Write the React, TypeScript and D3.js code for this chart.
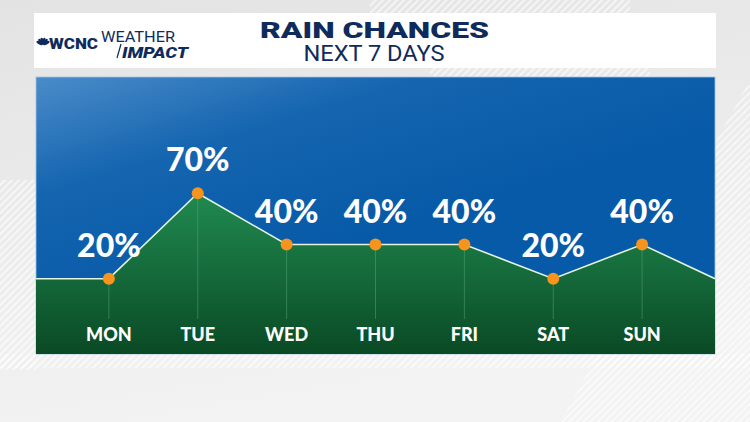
import { useEffect, useRef } from 'react'
import * as d3 from 'd3'

// rain chances
const days = ['MON', 'TUE', 'WED', 'THU', 'FRI', 'SAT', 'SUN']
const chances = [20, 70, 40, 40, 40, 20, 40]
// the line runs on past the first and last day to the panel edges
const leadChance = 20
const trailChance = 20

const W = 750, H = 422
const P = { left: 36, right: 715, top: 77, bottom: 354 }

export default function App() {
  const svgRef = useRef<SVGSVGElement>(null)

  useEffect(() => {
    const svg = d3.select(svgRef.current)
    svg.selectAll('*').remove()
    svg.attr('viewBox', `0 0 ${W} ${H}`).attr('width', W).attr('height', H)

    const defs = svg.append('defs')

    // background
    const bg = defs.append('linearGradient').attr('id', 'bg')
      .attr('x1', 0).attr('y1', 0).attr('x2', 0.3).attr('y2', 1)
    bg.append('stop').attr('offset', '0%').attr('stop-color', '#e3e3e3')
    bg.append('stop').attr('offset', '100%').attr('stop-color', '#f3f3f3')

    const hatch = defs.append('pattern').attr('id', 'hatch')
      .attr('patternUnits', 'userSpaceOnUse').attr('width', 5).attr('height', 5)
      .attr('patternTransform', 'rotate(45)')
    hatch.append('rect').attr('width', 1.6).attr('height', 5).attr('fill', '#ffffff').attr('opacity', 0.7)

    const blue = defs.append('linearGradient').attr('id', 'blue')
      .attr('x1', 0).attr('y1', 0).attr('x2', 0.45).attr('y2', 0.6)
    blue.append('stop').attr('offset', '0%').attr('stop-color', '#4b8cc9')
    blue.append('stop').attr('offset', '45%').attr('stop-color', '#1565b0')
    blue.append('stop').attr('offset', '100%').attr('stop-color', '#075aa7')

    const green = defs.append('linearGradient').attr('id', 'green')
      .attr('x1', 0).attr('y1', 0).attr('x2', 0).attr('y2', 1)
    green.append('stop').attr('offset', '0%').attr('stop-color', '#208a50')
    green.append('stop').attr('offset', '100%').attr('stop-color', '#0a4a25')

    defs.append('clipPath').attr('id', 'panel')
      .append('rect').attr('x', P.left).attr('y', P.top)
      .attr('width', P.right - P.left).attr('height', P.bottom - P.top)

    svg.append('rect').attr('width', W).attr('height', H).attr('fill', 'url(#bg)')
    // striped areas around the panels
    svg.append('rect').attr('x', 0).attr('y', 180).attr('width', P.left).attr('height', 190).attr('fill', 'url(#hatch)')
    svg.append('rect').attr('x', 0).attr('y', P.bottom).attr('width', W).attr('height', 14).attr('fill', 'url(#hatch)')
    svg.append('path').attr('d', `M${W},80 L${W},${H} L560,${H} Z`).attr('fill', 'url(#hatch)')
    svg.append('rect').attr('x', 370).attr('y', 0).attr('width', 260).attr('height', 13).attr('fill', 'url(#hatch)')
    svg.append('rect').attr('x', 430).attr('y', 68).attr('width', 220).attr('height', 9).attr('fill', 'url(#hatch)')

    // header
    svg.append('rect').attr('x', 34).attr('y', 13).attr('width', 682).attr('height', 55).attr('fill', '#ffffff')
    const navy = '#0f2b5b'
    svg.append('text').attr('x', 374.5).attr('y', 37.5).attr('text-anchor', 'middle')
      .attr('font-family', 'Roboto, sans-serif').attr('font-weight', 900).attr('font-size', 22)
      .attr('textLength', 229).attr('lengthAdjust', 'spacingAndGlyphs')
      .attr('fill', navy).text('RAIN CHANCES')
    svg.append('text').attr('x', 374).attr('y', 61).attr('text-anchor', 'middle')
      .attr('font-family', 'Roboto, sans-serif').attr('font-weight', 400).attr('font-size', 22)
      .attr('textLength', 141).attr('lengthAdjust', 'spacingAndGlyphs')
      .attr('fill', navy).text('NEXT 7 DAYS')

    // logo
    ;[0, 1, 2, 3, 4, 5].forEach(i => {
      const deg = -150 + i * 24
      const a = deg * Math.PI / 180
      const cx = 43 + Math.cos(a) * 4, cy = 45 + Math.sin(a) * 4
      svg.append('ellipse').attr('cx', cx).attr('cy', cy)
        .attr('rx', 1.5).attr('ry', 3.4)
        .attr('transform', `rotate(${deg + 90} ${cx} ${cy})`)
        .attr('fill', navy)
    })
    svg.append('text').attr('x', 49).attr('y', 49)
      .attr('font-family', 'Roboto, sans-serif').attr('font-weight', 900).attr('font-size', 14)
      .attr('textLength', 49).attr('lengthAdjust', 'spacingAndGlyphs')
      .attr('fill', navy).text('WCNC')
    svg.append('text').attr('x', 101).attr('y', 41.5)
      .attr('font-family', 'Roboto, sans-serif').attr('font-weight', 400).attr('font-size', 14)
      .attr('textLength', 74).attr('lengthAdjust', 'spacingAndGlyphs')
      .attr('fill', navy).text('WEATHER')
    svg.append('text').attr('x', 122).attr('y', 58)
      .attr('font-family', 'Roboto, sans-serif').attr('font-weight', 900).attr('font-style', 'italic').attr('font-size', 14)
      .attr('textLength', 66).attr('lengthAdjust', 'spacingAndGlyphs')
      .attr('fill', navy).text('IMPACT')
    svg.append('line').attr('x1', 121).attr('y1', 44).attr('x2', 117).attr('y2', 58)
      .attr('stroke', navy).attr('stroke-width', 1.2)

    // chart panel
    svg.append('rect').attr('x', P.left).attr('y', P.top)
      .attr('width', P.right - P.left).attr('height', P.bottom - P.top)
      .attr('fill', 'url(#blue)').attr('stroke', '#9cc3e6').attr('stroke-width', 0.8)

    const x = d3.scalePoint<string>().domain(days).range([P.left, P.right]).padding(0.82)
    const y = d3.scaleLinear().domain([0, 100]).range([312.9, 141.9])

    const pts: [number, number][] = [
      [P.left, leadChance],
      ...days.map((d, i) => [x(d)!, chances[i]] as [number, number]),
      [P.right, trailChance],
    ]

    const g = svg.append('g').attr('clip-path', 'url(#panel)')

    const area = d3.area<[number, number]>()
      .x(p => p[0]).y0(P.bottom).y1(p => y(p[1]))
    g.append('path').datum(pts).attr('d', area).attr('fill', 'url(#green)')

    // drop lines
    g.selectAll('line.drop').data(days).join('line').attr('class', 'drop')
      .attr('x1', d => x(d)!).attr('x2', d => x(d)!)
      .attr('y1', (d, i) => y(chances[i])).attr('y2', 319)
      .attr('stroke', '#5fae7c').attr('stroke-opacity', 0.45).attr('stroke-width', 1)

    const line = d3.line<[number, number]>().x(p => p[0]).y(p => y(p[1]))
    g.append('path').datum(pts).attr('d', line)
      .attr('fill', 'none').attr('stroke', '#e4f3de').attr('stroke-width', 1.6)

    g.selectAll('circle').data(days).join('circle')
      .attr('cx', d => x(d)!).attr('cy', (d, i) => y(chances[i]))
      .attr('r', 6).attr('fill', '#f7941d')

    g.selectAll('text.pct').data(days).join('text').attr('class', 'pct')
      .attr('x', d => x(d)!).attr('y', (d, i) => y(chances[i]) - 22)
      .attr('text-anchor', 'middle')
      .attr('font-family', 'Lato, sans-serif').attr('font-weight', 900).attr('font-size', 32)
      .attr('fill', '#ffffff')
      .text((d, i) => `${chances[i]}%`)

    g.selectAll('text.day').data(days).join('text').attr('class', 'day')
      .attr('x', d => x(d)!).attr('y', 341)
      .attr('text-anchor', 'middle')
      .attr('font-family', 'Lato, sans-serif').attr('font-weight', 900).attr('font-size', 18)
      .attr('fill', '#ffffff')
      .text(d => d)
  }, [])

  return <svg ref={svgRef} style={{ position: 'absolute', left: 0, top: 0, display: 'block' }} />
}
